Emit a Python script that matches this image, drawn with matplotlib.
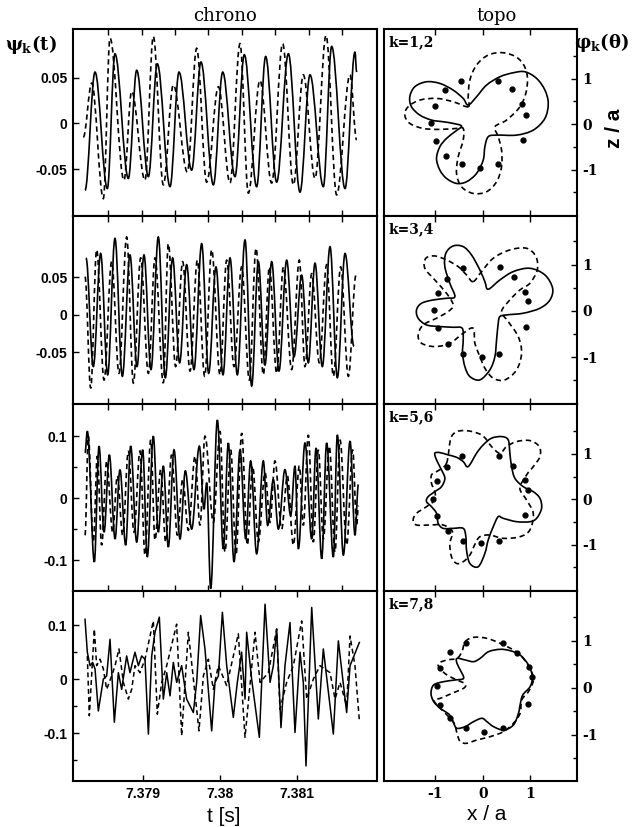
import matplotlib
matplotlib.use('Agg')
import matplotlib.pyplot as plt
from matplotlib.path import Path
from matplotlib.patches import PathPatch
import numpy as np

plt.rcParams['font.family'] = 'Liberation Sans'
plt.rcParams['mathtext.fontset'] = 'custom'
plt.rcParams['mathtext.rm'] = 'DejaVu Serif:bold'
plt.rcParams['mathtext.it'] = 'DejaVu Serif:bold'
plt.rcParams['mathtext.bf'] = 'DejaVu Serif:bold'

# ---- chrono data: time in ms after 7.378 s, psi_k values (extrema)
t1s = [0.247, 0.377, 0.537, 0.636, 0.810, 0.918, 1.070, 1.186, 1.351, 1.468, 1.632, 1.753, 1.914,
       2.035, 2.195, 2.316, 2.476, 2.593, 2.736, 2.888, 3.039, 3.169, 3.342, 3.450, 3.624, 3.753, 3.775]
v1s = [-0.073, 0.056, -0.071, 0.076, -0.060, 0.058, -0.058, 0.065, -0.069, 0.056, -0.051, 0.067, -0.067,
       0.056, -0.058, 0.075, -0.069, 0.073, -0.064, 0.076, -0.075, 0.053, -0.069, 0.084, -0.071, 0.078, 0.056]
t1d = [0.225, 0.334, 0.485, 0.572, 0.753, 0.853, 1.026, 1.134, 1.264, 1.394, 1.576, 1.697, 1.827, 1.979,
       2.130, 2.260, 2.368, 2.519, 2.671, 2.814, 2.953, 3.082, 3.234, 3.377, 3.515, 3.688, 3.775]
v1d = [-0.015, 0.044, -0.082, 0.093, -0.062, 0.035, -0.062, 0.095, -0.067, 0.042, -0.053, 0.082, -0.064, 0.040,
       -0.065, 0.087, -0.076, 0.047, -0.065, 0.087, -0.067, 0.053, -0.060, 0.096, -0.078, 0.053, -0.018]

t2s = [0.260, 0.355, 0.450, 0.541, 0.636, 0.732, 0.831, 0.922, 1.013, 1.104, 1.199, 1.290, 1.385, 1.476,
       1.567, 1.662, 1.762, 1.853, 1.948, 2.039, 2.130, 2.225, 2.325, 2.411, 2.498, 2.584, 2.671, 2.766,
       2.866, 2.961, 3.061, 3.147, 3.234, 3.329, 3.429, 3.524, 3.624, 3.740]
v2s = [0.076, -0.069, 0.082, -0.080, 0.102, -0.082, 0.080, -0.069, 0.080, -0.073, 0.104, -0.084, 0.076, -0.064,
       0.067, -0.073, 0.095, -0.078, 0.064, -0.080, 0.076, -0.080, 0.100, -0.095, 0.071, -0.067, 0.071, -0.075,
       0.073, -0.056, 0.053, -0.064, 0.069, -0.069, 0.091, -0.084, 0.082, -0.042]
t2d = [0.247, 0.321, 0.398, 0.494, 0.593, 0.688, 0.788, 0.875, 0.970, 1.070, 1.156, 1.264, 1.329, 1.424,
       1.515, 1.611, 1.706, 1.801, 1.892, 2.000, 2.087, 2.182, 2.281, 2.381, 2.468, 2.563, 2.641, 2.736,
       2.823, 2.931, 3.030, 3.104, 3.191, 3.290, 3.385, 3.472, 3.567, 3.667, 3.766]
v2d = [0.051, -0.098, 0.087, -0.087, 0.071, -0.078, 0.104, -0.091, 0.076, -0.078, 0.076, -0.091, 0.095, -0.069,
       0.071, -0.075, 0.073, -0.082, 0.087, -0.080, 0.073, -0.069, 0.064, -0.087, 0.089, -0.080, 0.064, -0.078,
       0.064, -0.073, 0.073, -0.069, 0.055, -0.064, 0.067, -0.082, 0.064, -0.082, 0.053]

t3s = [0.247, 0.277, 0.368, 0.429, 0.494, 0.563, 0.637, 0.701, 0.775, 0.840, 0.918, 0.996, 1.056, 1.134,
       1.199, 1.264, 1.329, 1.403, 1.481, 1.550, 1.632, 1.732, 1.792, 1.827, 1.879, 1.966, 2.043, 2.108,
       2.182, 2.260, 2.334, 2.398, 2.476, 2.563, 2.619, 2.693, 2.758, 2.844, 2.918, 2.974, 3.018, 3.104,
       3.191, 3.247, 3.321, 3.385, 3.472, 3.524, 3.602, 3.689, 3.753, 3.797]
v3s = [0.073, 0.108, -0.103, 0.084, -0.055, 0.070, -0.066, 0.046, -0.076, 0.084, -0.071, 0.078, -0.095, 0.100,
       -0.055, 0.052, -0.079, 0.078, -0.066, 0.044, -0.050, 0.084, -0.018, 0.025, -0.146, 0.126, -0.082, 0.089,
       -0.103, 0.078, -0.066, 0.060, -0.090, 0.060, -0.044, 0.030, -0.050, 0.046, -0.028, 0.052, -0.082, 0.089,
       -0.066, 0.081, -0.098, 0.089, -0.095, 0.102, -0.092, 0.092, -0.060, 0.022]
t3d = [0.247, 0.290, 0.355, 0.407, 0.463, 0.528, 0.606, 0.667, 0.736, 0.810, 0.883, 0.961, 1.026, 1.100,
       1.156, 1.230, 1.295, 1.372, 1.446, 1.515, 1.589, 1.676, 1.740, 1.805, 1.914, 2.000, 2.065, 2.139,
       2.208, 2.282, 2.355, 2.424, 2.498, 2.585, 2.650, 2.714, 2.801, 2.875, 2.953, 3.030, 3.082, 3.147,
       3.212, 3.277, 3.342, 3.420, 3.494, 3.559, 3.645, 3.723, 3.775, 3.797]
v3d = [-0.060, 0.100, -0.071, 0.068, -0.076, 0.060, -0.055, 0.036, -0.060, 0.076, -0.055, 0.076, -0.092, 0.094,
       -0.068, 0.046, -0.071, 0.070, -0.060, 0.030, -0.052, 0.068, -0.044, 0.100, -0.039, 0.108, -0.087, 0.078,
       -0.092, 0.105, -0.076, 0.052, -0.071, 0.041, -0.039, 0.060, -0.050, 0.036, -0.076, 0.052, -0.044, 0.102,
       -0.071, 0.078, -0.066, 0.084, -0.087, 0.094, -0.076, 0.078, -0.044, -0.012]

t4s = [0.247, 0.277, 0.312, 0.346, 0.377, 0.420, 0.485, 0.528, 0.572, 0.628, 0.680, 0.723, 0.788, 0.831,
       0.896, 0.940, 0.983, 1.026, 1.070, 1.113, 1.156, 1.212, 1.264, 1.308, 1.351, 1.394, 1.437, 1.502,
       1.567, 1.654, 1.697, 1.749, 1.805, 1.892, 1.935, 1.979, 2.031, 2.087, 2.173, 2.225, 2.281, 2.325,
       2.346, 2.411, 2.511, 2.585, 2.650, 2.693, 2.736, 2.792, 2.844, 2.909, 2.974, 3.039, 3.082, 3.117,
       3.191, 3.277, 3.342, 3.472, 3.537, 3.645, 3.689, 3.810]
v4s = [0.111, 0.050, 0.025, 0.031, 0.019, -0.059, 0.000, 0.006, 0.074, -0.080, 0.012, -0.019, 0.043, 0.012,
       0.050, 0.025, 0.043, 0.037, -0.102, 0.043, 0.087, 0.115, -0.037, 0.012, -0.031, 0.031, -0.006, 0.025,
       -0.037, -0.062, -0.006, 0.118, 0.056, -0.096, -0.006, 0.006, 0.124, 0.025, -0.071, -0.006, 0.050, -0.037,
       0.087, 0.000, -0.108, 0.139, -0.006, 0.025, 0.093, -0.090, 0.025, 0.105, -0.099, 0.050, -0.006, -0.161,
       0.133, -0.074, 0.056, -0.102, 0.071, -0.062, 0.025, 0.068]
t4d = [0.277, 0.303, 0.368, 0.398, 0.442, 0.485, 0.528, 0.593, 0.637, 0.688, 0.745, 0.810, 0.853, 0.896,
       0.961, 1.026, 1.134, 1.186, 1.243, 1.308, 1.437, 1.502, 1.589, 1.727, 1.784, 1.849, 1.914, 1.979,
       2.087, 2.238, 2.325, 2.455, 2.520, 2.628, 2.736, 2.779, 2.866, 2.953, 3.061, 3.126, 3.212, 3.299,
       3.429, 3.494, 3.559, 3.645, 3.689, 3.753, 3.810]
v4d = [0.043, -0.068, 0.093, 0.025, 0.037, 0.019, -0.019, 0.006, 0.025, 0.056, -0.006, -0.037, -0.019, 0.025,
       0.012, 0.037, 0.108, -0.065, -0.006, 0.025, 0.102, -0.105, 0.087, -0.096, 0.006, 0.037, -0.019, 0.025,
       -0.012, 0.084, -0.108, 0.087, -0.006, 0.012, 0.093, -0.056, -0.006, 0.025, 0.108, -0.037, 0.000, 0.025,
       0.012, -0.037, -0.006, -0.050, 0.080, 0.025, -0.077]

# ---- topo data: (x/a, z/a) points of the solid and dashed curves, and the probe dots
x1s = [-0.309, -0.133, 0.077, 0.358, 0.639, 0.884, 1.130, 1.305, 1.375, 1.305, 1.060, 0.709, 0.288, 0.112,
       0.042, 0.007, -0.133, -0.344, -0.554, -0.765, -0.905, -0.975, -0.905, -0.765, -0.589, -0.449, -0.625,
       -0.835, -1.081, -1.326, -1.502, -1.537, -1.432, -1.186, -0.905, -0.625, -0.414]
z1s = [0.418, 0.601, 0.857, 1.040, 1.128, 1.150, 1.004, 0.747, 0.454, 0.125, -0.132, -0.242, -0.242, -0.278,
       -0.498, -0.791, -1.084, -1.267, -1.304, -1.194, -1.011, -0.755, -0.498, -0.315, -0.168, -0.044, 0.015,
       0.051, 0.088, 0.198, 0.381, 0.601, 0.821, 0.930, 0.894, 0.747, 0.564]
x1d = [-0.309, -0.625, -0.975, -1.326, -1.572, -1.642, -1.537, -1.256, -0.905, -0.554, -0.414, -0.414, -0.519,
       -0.554, -0.449, -0.204, 0.077, 0.288, 0.393, 0.393, 0.323, 0.253, 0.498, 0.779, 0.919, 0.919, 0.744,
       0.428, 0.112, -0.133, -0.274, -0.309]
z1d = [0.381, 0.491, 0.564, 0.527, 0.381, 0.198, 0.015, -0.095, -0.117, -0.095, -0.095, -0.352, -0.718,
       -1.084, -1.377, -1.524, -1.487, -1.267, -0.938, -0.571, -0.278, -0.059, 0.088, 0.381, 0.747, 1.150, 1.443,
       1.568, 1.516, 1.297, 0.967, 0.601]
x1p = [-0.463, -0.800, -1.011, -1.081, -0.989, -0.786, -0.449, -0.063, 0.309, 0.835, 0.898, 0.828, 0.618, 0.309]
z1p = [0.945, 0.747, 0.396, 0.029, -0.366, -0.696, -0.886, -0.960, -0.886, -0.352, 0.198, 0.432, 0.762, 0.945]

x2s = [0.112, 0.358, 0.639, 0.989, 1.305, 1.467, 1.411, 1.200, 0.849, 0.498, 0.358, 0.323, 0.288, 0.253,
       0.147, -0.063, -0.274, -0.379, -0.428, -0.414, -0.435, -0.625, -0.905, -1.186, -1.361, -1.396, -1.291,
       -1.046, -0.765, -0.589, -0.695, -0.800, -0.779, -0.625, -0.414, -0.239, -0.063, 0.042]
z2s = [0.468, 0.669, 0.849, 0.921, 0.777, 0.489, 0.237, 0.058, -0.050, -0.086, -0.122, -0.266, -0.626, -0.986,
       -1.273, -1.489, -1.417, -1.201, -0.914, -0.626, -0.374, -0.353, -0.338, -0.302, -0.158, 0.022, 0.165,
       0.237, 0.273, 0.309, 0.597, 0.957, 1.245, 1.403, 1.388, 1.209, 0.885, 0.633]
x2d = [-0.204, -0.028, 0.218, 0.568, 0.919, 1.116, 1.144, 0.989, 0.779, 0.568, 0.393, 0.533, 0.744, 0.814,
       0.709, 0.463, 0.218, 0.042, -0.063, -0.168, -0.204, -0.414, -0.695, -1.011, -1.291, -1.361, -1.256,
       -0.975, -0.730, -0.625, -0.765, -1.011, -1.221, -1.200, -1.011, -0.765, -0.519, -0.344]
z2d = [0.633, 0.849, 1.137, 1.317, 1.353, 1.173, 0.885, 0.597, 0.453, 0.237, -0.014, -0.230, -0.554, -0.914,
       -1.273, -1.489, -1.453, -1.237, -0.986, -0.698, -0.374, -0.482, -0.698, -0.770, -0.698, -0.518, -0.302,
       -0.158, -0.014, 0.130, 0.381, 0.669, 0.921, 1.137, 1.187, 1.101, 0.957, 0.777]
x2p = [-0.428, -0.765, -0.954, -1.032, -0.954, -0.744, -0.414, -0.028, 0.344, 0.898, 0.954, 0.891, 0.660, 0.358]
z2p = [0.935, 0.691, 0.381, 0.022, -0.360, -0.712, -0.928, -0.986, -0.928, -0.353, 0.223, 0.417, 0.727, 0.942]

x3s = [-0.309, -0.133, 0.007, 0.182, 0.393, 0.533, 0.568, 0.604, 0.674, 0.849, 1.060, 1.200, 1.235, 1.130,
       0.989, 0.709, 0.428, 0.323, 0.218, 0.112, 0.042, -0.098, -0.274, -0.344, -0.358, -0.414, -0.625, -0.835,
       -0.940, -0.975, -1.081, -1.186, -1.151, -1.011, -0.870, -0.800, -0.870, -0.975, -1.011, -0.905, -0.730,
       -0.554, -0.414]
z3s = [0.721, 1.015, 1.199, 1.346, 1.382, 1.309, 1.015, 0.721, 0.463, 0.279, 0.169, 0.022, -0.199, -0.419,
       -0.493, -0.493, -0.419, -0.382, -0.603, -0.897, -1.191, -1.485, -1.412, -1.118, -0.824, -0.640, -0.640,
       -0.640, -0.529, -0.309, -0.162, -0.051, 0.059, 0.169, 0.279, 0.463, 0.647, 0.868, 1.015, 1.029, 0.978,
       0.926, 0.831]
x3d = [-0.765, -0.660, -0.414, -0.028, 0.182, 0.358, 0.498, 0.709, 0.989, 1.186, 1.200, 1.060, 0.919, 0.779,
       0.919, 1.060, 0.989, 0.779, 0.428, 0.147, -0.063, -0.168, -0.274, -0.414, -0.554, -0.660, -0.695, -0.639,
       -0.835, -1.116, -1.396, -1.467, -1.396, -1.186, -1.011, -1.011, -1.081, -1.081, -0.975]
z3d = [0.794, 1.382, 1.515, 1.419, 1.162, 1.015, 1.162, 1.272, 1.294, 1.162, 0.941, 0.721, 0.537, 0.243,
       -0.015, -0.309, -0.676, -0.824, -0.860, -0.787, -0.824, -0.993, -1.228, -1.375, -1.412, -1.265, -0.971,
       -0.713, -0.566, -0.566, -0.566, -0.456, -0.309, -0.162, -0.015, 0.169, 0.353, 0.537, 0.610]
x3p = [-0.435, -0.765, -0.975, -1.046, -0.961, -0.744, -0.414, -0.042, 0.337, 0.884, 0.940, 0.884, 0.639, 0.344]
z3p = [0.956, 0.721, 0.412, 0.000, -0.360, -0.699, -0.912, -0.971, -0.912, -0.346, 0.206, 0.426, 0.743, 0.956]

x4s = [-0.545, -0.371, -0.196, -0.056, 0.119, 0.364, 0.573, 0.783, 0.958, 1.042, 0.993, 0.839, 0.783, 0.748,
       0.643, 0.434, 0.224, 0.084, -0.021, -0.196, -0.371, -0.545, -0.615, -0.699, -0.895, -1.035, -1.091,
       -1.035, -0.825, -0.580, -0.406, -0.476, -0.545]
z4s = [0.622, 0.587, 0.551, 0.622, 0.763, 0.813, 0.784, 0.693, 0.481, 0.233, 0.021, -0.155, -0.367, -0.544,
       -0.792, -0.898, -0.827, -0.721, -0.650, -0.721, -0.827, -0.862, -0.756, -0.580, -0.438, -0.297, -0.120,
       0.057, 0.127, 0.163, 0.198, 0.375, 0.516]
x4d = [-0.371, -0.196, 0.084, 0.364, 0.643, 0.818, 0.993, 1.063, 0.958, 0.818, 0.783, 0.643, 0.434, 0.154,
       -0.126, -0.336, -0.476, -0.545, -0.601, -0.755, -0.930, -1.035, -0.895, -0.650, -0.406, -0.371, -0.545,
       -0.755, -0.909, -0.930, -0.755, -0.545, -0.441]
z4d = [0.975, 1.067, 1.046, 0.940, 0.799, 0.657, 0.410, 0.163, -0.085, -0.261, -0.544, -0.756, -0.933, -1.039,
       -1.110, -1.180, -1.145, -0.968, -0.756, -0.580, -0.403, -0.261, -0.226, -0.120, -0.014, 0.078, 0.163,
       0.269, 0.410, 0.516, 0.587, 0.622, 0.763]
x4p = [-0.357, 0.413, 0.727, 0.965, 1.028, 0.958, 0.413, 0.028, -0.357, -0.685, -0.895, -0.965, -0.909, -0.685]
z4p = [0.954, 0.954, 0.742, 0.431, 0.219, -0.346, -0.862, -0.933, -0.862, -0.650, -0.367, 0.035, 0.410, 0.749]

chrono = [(t1s, v1s, t1d, v1d), (t2s, v2s, t2d, v2d), (t3s, v3s, t3d, v3d), (t4s, v4s, t4d, v4d)]
topo = [(x1s, z1s, x1d, z1d, x1p, z1p), (x2s, z2s, x2d, z2d, x2p, z2p),
        (x3s, z3s, x3d, z3d, x3p, z3p), (x4s, z4s, x4d, z4d, x4p, z4p)]
k_labels = ['k=1,2', 'k=3,4', 'k=5,6', 'k=7,8']
ylims_left = [(-0.101, 0.103), (-0.119, 0.132), (-0.147, 0.152), (-0.189, 0.1635)]
yticks_left = [[-0.05, 0, 0.05], [-0.05, 0, 0.05], [-0.1, 0, 0.1], [-0.1, 0, 0.1]]
ylabels_left = [['-0.05', '0', '0.05'], ['-0.05', '0', '0.05'], ['-0.1', '0', '0.1'], ['-0.1', '0', '0.1']]
ylims_right = [(-2.02, 2.09), (-2.01, 2.05), (-2.02, 2.10), (-1.98, 2.05)]
inner_xticks = [7.37855, 7.37899, 7.37942, 7.37985, 7.38029, 7.38072, 7.38115, 7.38159]
bottom_xticks = [7.379, 7.380, 7.381]
bottom_xlabels = ['7.379', '7.38', '7.381']

T0 = 7.378
DASH = (0, (3.2, 2.2))


def wave_path(t, v):
    # cubic segments between successive extrema, flat tangents at each extremum
    t = [T0 + x * 1e-3 for x in t]
    verts = [(t[0], v[0])]
    codes = [Path.MOVETO]
    for i in range(1, len(t)):
        d = (t[i] - t[i - 1]) * 0.36
        verts += [(t[i - 1] + d, v[i - 1]), (t[i] - d, v[i]), (t[i], v[i])]
        codes += [Path.CURVE4] * 3
    return Path(verts, codes)


def loop_path(x, z):
    # closed Catmull-Rom curve through the points
    p = np.column_stack([x, z])
    n = len(p)
    verts = [p[0]]
    codes = [Path.MOVETO]
    for i in range(n):
        p0, p1, p2, p3 = p[i - 1], p[i], p[(i + 1) % n], p[(i + 2) % n]
        verts += [p1 + (p2 - p0) / 6.0, p2 - (p3 - p1) / 6.0, p2]
        codes += [Path.CURVE4] * 3
    return Path(verts, codes)


def style_ticks(labels, family, size, weight):
    for lab in labels:
        lab.set_fontfamily(family)
        lab.set_fontsize(size)
        lab.set_fontweight(weight)


fig = plt.figure(figsize=(6.39, 8.27), dpi=100)
W, H = 639.0, 827.0
edges = [29, 216, 404, 591, 781]

for r in range(4):
    top, bot = edges[r], edges[r + 1]
    y0 = 1 - bot / H
    h = (bot - top) / H

    # chrono panel
    ax = fig.add_axes([73 / W, y0, 304 / W, h])
    ts, vs, td, vd = chrono[r]
    if r < 3:
        ax.add_patch(PathPatch(wave_path(ts, vs), fill=False, ec='black', lw=1.2))
        ax.add_patch(PathPatch(wave_path(td, vd), fill=False, ec='black', lw=1.2, ls=DASH))
    else:
        ax.plot([T0 + x * 1e-3 for x in ts], vs, color='black', lw=1.1)
        ax.plot([T0 + x * 1e-3 for x in td], vd, color='black', lw=1.1, ls=DASH)
    ax.set_xlim(7.378091, 7.382039)
    ax.set_ylim(*ylims_left[r])
    ax.set_yticks(yticks_left[r])
    ax.set_yticklabels(ylabels_left[r])
    if r >= 2:
        ax.set_yticks([-0.15, -0.05, 0.05], minor=True)
    if r < 3:
        ax.set_xticks(inner_xticks)
        ax.set_xticklabels([])
    else:
        ax.set_xticks(bottom_xticks)
        ax.set_xticklabels(bottom_xlabels)
    ax.tick_params(which='both', direction='in', top=True, bottom=True, left=True, right=False,
                   length=4, width=1.0, pad=4)
    ax.tick_params(which='minor', length=3)
    style_ticks(ax.get_yticklabels() + ax.get_xticklabels(), 'Liberation Sans', 10, 'bold')
    for s in ax.spines.values():
        s.set_linewidth(1.5)

    # topo panel
    bx = fig.add_axes([384 / W, y0, 193 / W, h])
    xs, zs, xd, zd, xp, zp = topo[r]
    bx.add_patch(PathPatch(loop_path(xs, zs), fill=False, ec='black', lw=1.2))
    bx.add_patch(PathPatch(loop_path(xd, zd), fill=False, ec='black', lw=1.2, ls=DASH))
    bx.plot(xp, zp, 'o', color='black', ms=3.5, mec='black')
    bx.set_xlim(-2.08, 1.98)
    bx.set_ylim(*ylims_right[r])
    bx.set_xticks([-1, 0, 1])
    if r < 3:
        bx.set_xticklabels([])
    else:
        bx.set_xticklabels(['-1', '0', '1'])
    bx.set_yticks([-1, 0, 1])
    bx.set_yticklabels(['-1', '0', '1'])
    bx.set_yticks([-1.5, -0.5, 0.5, 1.5], minor=True)
    bx.yaxis.tick_right()
    bx.tick_params(which='both', direction='in', top=True, bottom=True, left=False, right=True,
                   length=4, width=1.0, pad=4)
    bx.tick_params(which='minor', length=3)
    style_ticks(bx.get_yticklabels() + bx.get_xticklabels(), 'DejaVu Serif', 10, 'bold')
    bx.text(0.025, 0.93, k_labels[r], transform=bx.transAxes, ha='left', va='center',
            fontfamily='DejaVu Serif', fontsize=10, fontweight='bold')
    for s in bx.spines.values():
        s.set_linewidth(1.5)

fig.text(225 / W, 1 - 16 / H, 'chrono', ha='center', va='center', fontfamily='DejaVu Serif', fontsize=13)
fig.text(497 / W, 1 - 16 / H, 'topo', ha='center', va='center', fontfamily='DejaVu Serif', fontsize=13)
fig.text(31 / W, 1 - 45 / H, r'$\psi_\mathrm{k}(\mathrm{t})$', ha='center', va='center', fontsize=13)
fig.text(601 / W, 1 - 43 / H, r'$\varphi_\mathrm{k}(\theta)$', ha='center', va='center', fontsize=13)
fig.text(615 / W, 1 - 128 / H, 'z / a', ha='center', va='center', rotation=90, fontsize=15,
         fontweight='bold')
fig.text(224 / W, 1 - 816 / H, 't [s]', ha='center', va='center', fontsize=15)
fig.text(487 / W, 1 - 815 / H, 'x / a', ha='center', va='center', fontsize=15)

fig.savefig('out.png', dpi=100)
